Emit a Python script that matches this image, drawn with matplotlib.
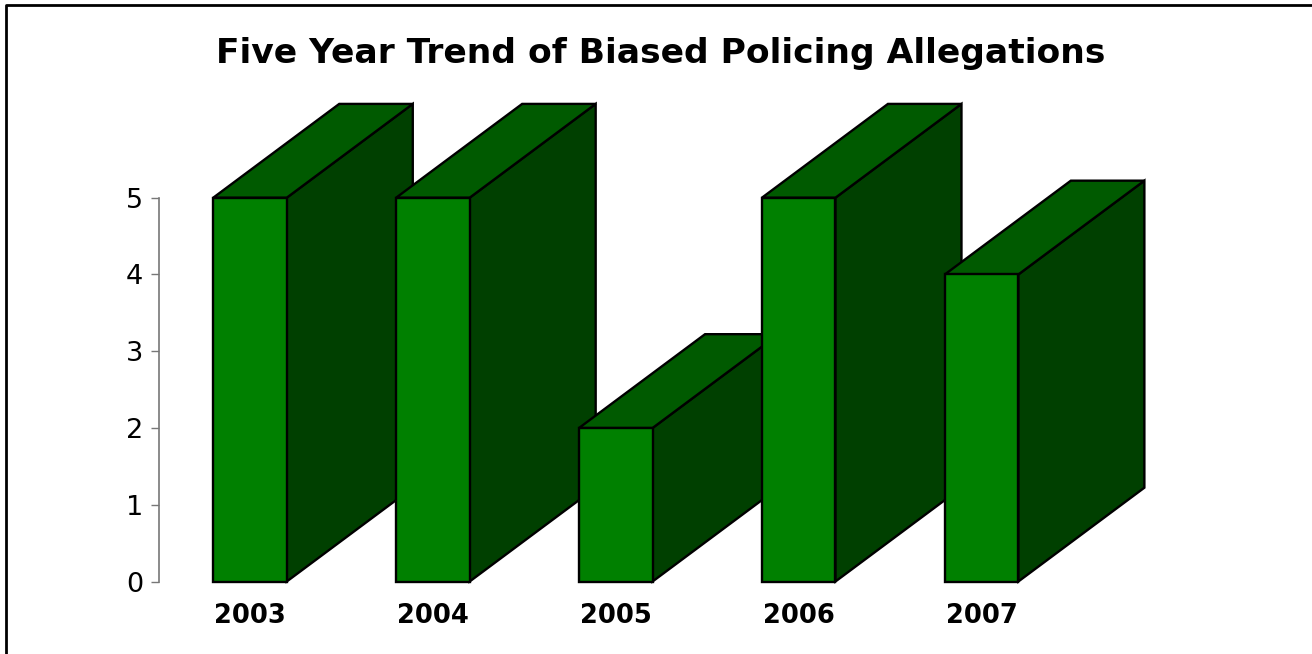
import matplotlib
matplotlib.use("Agg")
import matplotlib.pyplot as plt
from matplotlib.patches import Polygon
from matplotlib.lines import Line2D

# ---- data ----
years = ["2003", "2004", "2005", "2006", "2007"]
allegations = [5, 5, 2, 5, 4]
y_ticks = [0, 1, 2, 3, 4, 5]
title = "Five Year Trend of Biased Policing Allegations"

# ---- style ----
FRONT = "#008000"
TOP = "#005a00"
SIDE = "#004000"
BAR_W = 0.402      # category units
DEPTH_X = 0.689    # category units
DEPTH_Y = 1.222    # value units

W, H = 1312, 654
fig = plt.figure(figsize=(W / 100, H / 100), dpi=100)
plt.rcParams['font.family'] = ['DejaVu Sans']

# axes placement in pixels
ax_left, ax_right = 159, 1250
ax_bottom, ax_top = 581.5, 90
ax = fig.add_axes([ax_left / W, 1 - ax_bottom / H,
                   (ax_right - ax_left) / W, (ax_bottom - ax_top) / H])
px_per_cat = 182.9
px_per_val = 76.76
x0 = -(250 - ax_left) / px_per_cat
ax.set_xlim(x0, x0 + (ax_right - ax_left) / px_per_cat)
ax.set_ylim(0, (ax_bottom - ax_top) / px_per_val)

for i, v in enumerate(allegations):
    l, r = i - BAR_W / 2, i + BAR_W / 2
    side = Polygon([(r, 0), (r + DEPTH_X, DEPTH_Y), (r + DEPTH_X, v + DEPTH_Y), (r, v)],
                   closed=True, facecolor=SIDE, edgecolor="black", lw=1.7, joinstyle="miter")
    top = Polygon([(l, v), (l + DEPTH_X, v + DEPTH_Y), (r + DEPTH_X, v + DEPTH_Y), (r, v)],
                  closed=True, facecolor=TOP, edgecolor="black", lw=1.7, joinstyle="miter")
    front = Polygon([(l, 0), (l, v), (r, v), (r, 0)],
                    closed=True, facecolor=FRONT, edgecolor="black", lw=1.7, joinstyle="miter")
    for p in (side, top, front):
        p.set_clip_on(False)
        ax.add_patch(p)

for s in ("top", "right", "bottom"):
    ax.spines[s].set_visible(False)
ax.spines["left"].set_bounds(0, 5)
ax.spines["left"].set_color("#777777")
ax.spines["left"].set_linewidth(1.2)
ax.set_yticks(y_ticks)
ax.set_yticklabels([str(t) for t in y_ticks])
ax.tick_params(axis="y", length=5.8, width=1.0, color="#777777", pad=5.5,
               labelsize=19.5, labelcolor="black")
ax.set_xticks(range(len(years)))
ax.set_xticklabels(years, fontweight="bold", fontsize=18.5)
ax.tick_params(axis="x", length=0, pad=15.5)
ax.set_facecolor("none")

# title, fitted to width
t = fig.text(661 / W, 1 - 53.5 / H, title, ha="center", va="center",
             fontweight="bold", fontsize=26)
fig.canvas.draw()
bb = t.get_window_extent()
t.set_fontsize(26 * 890 / bb.width)

# border (left and top edges visible)
fig.add_artist(Line2D([6 / W, 6 / W, 1.01], [-0.01, 1 - 5 / H, 1 - 5 / H],
                      transform=fig.transFigure, color="black", lw=2))

fig.savefig("out.png", dpi=100)
